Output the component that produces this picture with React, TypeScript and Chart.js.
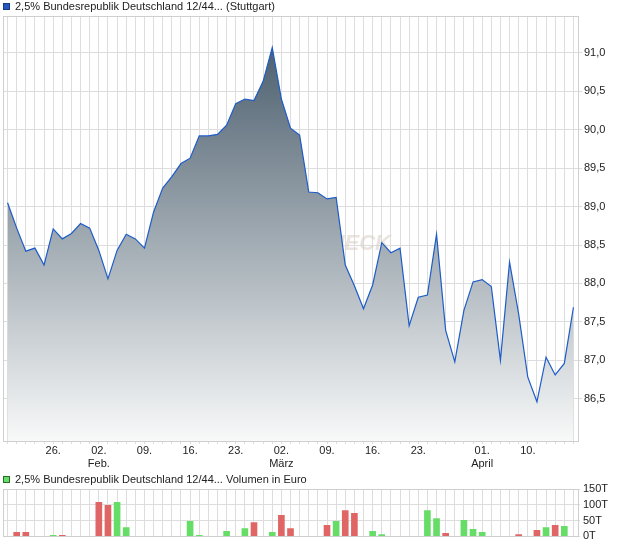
import React, { useEffect, useRef } from 'react';
import { Chart, registerables } from 'chart.js';

Chart.register(...registerables);

// Trading days (Stuttgart), 19.01.2026 – 17.04.2026
const dates = [
  '2026-01-19', '2026-01-20', '2026-01-21', '2026-01-22', '2026-01-23',
  '2026-01-26', '2026-01-27', '2026-01-28', '2026-01-29', '2026-01-30',
  '2026-02-02', '2026-02-03', '2026-02-04', '2026-02-05', '2026-02-06',
  '2026-02-09', '2026-02-10', '2026-02-11', '2026-02-12', '2026-02-13',
  '2026-02-16', '2026-02-17', '2026-02-18', '2026-02-19', '2026-02-20',
  '2026-02-23', '2026-02-24', '2026-02-25', '2026-02-26', '2026-02-27',
  '2026-03-02', '2026-03-03', '2026-03-04', '2026-03-05', '2026-03-06',
  '2026-03-09', '2026-03-10', '2026-03-11', '2026-03-12', '2026-03-13',
  '2026-03-16', '2026-03-17', '2026-03-18', '2026-03-19', '2026-03-20',
  '2026-03-23', '2026-03-24', '2026-03-25', '2026-03-26', '2026-03-27',
  '2026-03-30', '2026-03-31', '2026-04-01', '2026-04-02',
  '2026-04-07', '2026-04-08', '2026-04-09', '2026-04-10',
  '2026-04-13', '2026-04-14', '2026-04-15', '2026-04-16', '2026-04-17',
];

const prices = [
  89.05, 88.72, 88.42, 88.46, 88.24,
  88.71, 88.58, 88.65, 88.78, 88.72,
  88.43, 88.06, 88.43, 88.64, 88.58,
  88.46, 88.93, 89.24, 89.39, 89.56,
  89.63, 89.92, 89.92, 89.94, 90.06,
  90.34, 90.40, 90.38, 90.63, 91.07,
  90.40, 90.02, 89.93, 89.19, 89.18,
  89.10, 89.12, 88.24, 87.97, 87.67,
  87.98, 88.53, 88.40, 88.46, 87.45,
  87.82, 87.85, 88.64, 87.39, 86.98,
  87.65, 88.02, 88.05, 87.96,
  87.00, 88.28, 87.60, 86.78,
  86.46, 87.04, 86.81, 86.96, 87.69,
];

// Volume in thousand euro (T)
const volumes = [
  0, 13, 13, 0, 0,
  3, 3, 0, 0, 0,
  108, 98, 108, 28, 0,
  0, 0, 0, 0, 0,
  48, 3, 0, 0, 16,
  0, 25, 44, 0, 13,
  67, 25, 0, 0, 0,
  35, 48, 82, 73, 0,
  16, 6, 0, 0, 0,
  0, 82, 56, 10, 0,
  51, 22, 13, 0,
  0, 0, 6, 0,
  19, 28, 35, 32, 0,
];

const xTickIdx = [5, 10, 15, 20, 25, 30, 35, 40, 45, 52, 57];
const xTickDay = ['26.', '02.', '09.', '16.', '23.', '02.', '09.', '16.', '23.', '01.', '10.'];
const xTickMonth = ['', 'Feb.', '', '', '', 'März', '', '', '', 'April', ''];

const yTicksPrice = [86.5, 87.0, 87.5, 88.0, 88.5, 89.0, 89.5, 90.0, 90.5, 91.0];
const yTicksVolume = [0, 50, 100, 150];

const titleMain = '2,5% Bundesrepublik Deutschland 12/44... (Stuttgart)';
const titleVolume = '2,5% Bundesrepublik Deutschland 12/44... Volumen in Euro';

const FONT = "'Liberation Sans', Arial, Helvetica, sans-serif";
const GRID = '#dddddd';
const BORDER = '#cfcfcf';
const TEXT = '#222222';
const UP = '#66dd66';
const DOWN = '#e06666';

function headerPlugin(id: string, text: string, fill: string, stroke: string, y: number) {
  return {
    id,
    afterDraw(chart: any) {
      const ctx = chart.ctx;
      ctx.save();
      ctx.fillStyle = fill;
      ctx.fillRect(3, y - 4, 7, 7);
      ctx.strokeStyle = stroke;
      ctx.lineWidth = 1;
      ctx.strokeRect(3.5, y - 3.5, 6, 6);
      ctx.fillStyle = TEXT;
      ctx.font = `11px ${FONT}`;
      ctx.textBaseline = 'middle';
      ctx.textAlign = 'left';
      ctx.fillText(text, 15, y);
      ctx.restore();
    },
  };
}

const frame = {
  id: 'frame',
  afterDraw(chart: any) {
    const { left, right, top, bottom } = chart.chartArea;
    const ctx = chart.ctx;
    ctx.save();
    ctx.strokeStyle = BORDER;
    ctx.lineWidth = 1;
    ctx.strokeRect(Math.round(left) + 0.5, Math.round(top) + 0.5, Math.round(right - left), Math.round(bottom - top));
    ctx.restore();
  },
};

const watermark = {
  id: 'watermark',
  beforeDatasetsDraw(chart: any) {
    const ctx = chart.ctx;
    ctx.save();
    ctx.font = `italic bold 22px ${FONT}`;
    ctx.fillStyle = 'rgba(215,205,195,0.55)';
    ctx.textAlign = 'right';
    ctx.textBaseline = 'alphabetic';
    ctx.fillText('CHECK', 391, 250);
    ctx.restore();
  },
};

export default function App() {
  const priceRef = useRef<HTMLCanvasElement | null>(null);
  const volRef = useRef<HTMLCanvasElement | null>(null);

  useEffect(() => {
    if (!priceRef.current || !volRef.current) return;

    const priceChart = new Chart(priceRef.current, {
      type: 'line',
      data: {
        labels: dates,
        datasets: [
          {
            data: prices.map((v, i) => ({ x: i, y: v })),
            borderColor: '#1d5cc8',
            borderWidth: 1.2,
            pointRadius: 0,
            tension: 0,
            fill: 'start',
            backgroundColor: (c: any) => {
              const chart = c.chart;
              const ca = chart.chartArea;
              if (!ca) return 'rgba(0,0,0,0)';
              const g = chart.ctx.createLinearGradient(0, ca.top, 0, ca.bottom);
              g.addColorStop(0, '#405464');
              g.addColorStop(1, '#f8f9f9');
              return g;
            },
          },
        ],
      },
      options: {
        animation: false,
        responsive: false,
        devicePixelRatio: 1,
        layout: { padding: { top: 16, left: 3, right: 0, bottom: 0 } },
        plugins: { legend: { display: false }, tooltip: { enabled: false } },
        scales: {
          x: {
            type: 'linear',
            min: -0.5,
            max: 62.5,
            afterBuildTicks: (s: any) => {
              s.ticks = dates.map((_, i) => ({ value: i }));
            },
            afterFit: (s: any) => {
              s.height = 29;
            },
            ticks: {
              autoSkip: false,
              maxRotation: 0,
              minRotation: 0,
              padding: 1,
              color: TEXT,
              font: { family: FONT, size: 11, lineHeight: 1.15 },
              callback: (v: any) => {
                const k = xTickIdx.indexOf(Number(v));
                if (k < 0) return '';
                return xTickMonth[k] ? [xTickDay[k], xTickMonth[k]] : xTickDay[k];
              },
            },
            grid: { color: GRID, tickColor: GRID, tickLength: 3 },
            border: { color: BORDER },
          },
          y: {
            position: 'right',
            min: 85.95,
            max: 91.48,
            afterBuildTicks: (s: any) => {
              s.ticks = yTicksPrice.map((v) => ({ value: v }));
            },
            afterFit: (s: any) => {
              s.width = 42;
            },
            ticks: {
              padding: 2,
              color: TEXT,
              font: { family: FONT, size: 11 },
              callback: (v: any) => Number(v).toFixed(1).replace('.', ','),
            },
            grid: { color: GRID, tickColor: GRID, tickLength: 4 },
            border: { color: BORDER },
          },
        },
      } as any,
      plugins: [watermark, frame, headerPlugin('hdr1', titleMain, '#2458c0', '#173a80', 7)],
    });

    const volChart = new Chart(volRef.current, {
      type: 'bar',
      data: {
        labels: dates,
        datasets: [
          {
            data: volumes.map((v, i) => ({ x: i, y: v > 0 ? v : null })),
            backgroundColor: volumes.map((_, i) =>
              i > 0 && prices[i] < prices[i - 1] ? DOWN : UP
            ),
            barThickness: 6,
            borderWidth: 0,
          },
        ],
      },
      options: {
        animation: false,
        responsive: false,
        devicePixelRatio: 1,
        layout: { padding: { top: 19, left: 3, right: 0, bottom: 0 } },
        plugins: { legend: { display: false }, tooltip: { enabled: false } },
        scales: {
          x: {
            type: 'linear',
            min: -0.5,
            max: 62.5,
            offset: false,
            afterBuildTicks: (s: any) => {
              s.ticks = dates.map((_, i) => ({ value: i }));
            },
            afterFit: (s: any) => {
              s.height = 9;
            },
            ticks: { display: false },
            grid: { color: GRID, drawTicks: false, offset: false },
            border: { color: BORDER },
          },
          y: {
            position: 'right',
            min: 0,
            max: 150,
            afterBuildTicks: (s: any) => {
              s.ticks = yTicksVolume.map((v) => ({ value: v }));
            },
            afterFit: (s: any) => {
              s.width = 42;
            },
            ticks: {
              padding: 3,
              color: TEXT,
              font: { family: FONT, size: 11 },
              callback: (v: any) => `${v}T`,
            },
            grid: { color: GRID, tickColor: GRID, tickLength: 2 },
            border: { color: BORDER },
          },
        },
      } as any,
      plugins: [frame, headerPlugin('hdr2', titleVolume, '#66dd66', '#2a6a2a', 10)],
    });

    return () => {
      priceChart.destroy();
      volChart.destroy();
    };
  }, []);

  return (
    <div style={{ position: 'absolute', left: 0, top: 0, width: 620, height: 546, background: '#fff' }}>
      <canvas ref={priceRef} width={620} height={470} style={{ display: 'block', width: 620, height: 470 }} />
      <canvas ref={volRef} width={620} height={76} style={{ display: 'block', width: 620, height: 76 }} />
    </div>
  );
}
